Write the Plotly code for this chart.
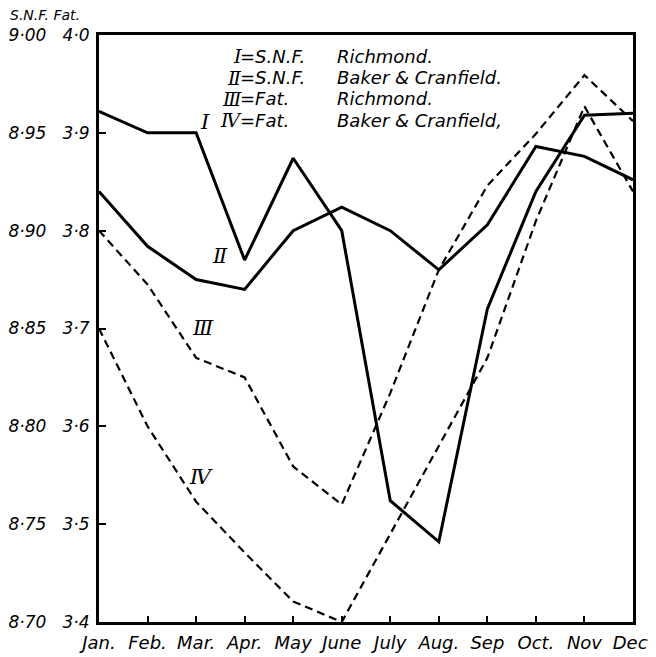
import plotly.graph_objects as go

months = ["Jan.", "Feb.", "Mar.", "Apr.", "May", "June", "July", "Aug.", "Sep", "Oct.", "Nov", "Dec."]

# S.N.F. per cent (left scale)
snf_richmond = [8.961, 8.950, 8.950, 8.885, 8.937, 8.900, 8.762, 8.741, 8.860, 8.920, 8.959, 8.960]
snf_baker = [8.920, 8.892, 8.875, 8.870, 8.900, 8.912, 8.900, 8.880, 8.903, 8.943, 8.938, 8.926]

# Fat per cent (right-hand column of the scale)
fat_richmond = [3.800, 3.745, 3.670, 3.650, 3.559, 3.520, 3.634, 3.760, 3.846, 3.899, 3.959, 3.912]
fat_baker = [3.700, 3.600, 3.523, 3.471, 3.421, 3.400, 3.490, 3.580, 3.670, 3.810, 3.927, 3.840]

snf_ticks = [8.70, 8.75, 8.80, 8.85, 8.90, 8.95, 9.00]
fat_ticks = [3.4, 3.5, 3.6, 3.7, 3.8, 3.9, 4.0]

legend_rows = [
    ("Ⅰ", "S.N.F.", "Richmond."),
    ("Ⅱ", "S.N.F.", "Baker & Cranfield."),
    ("Ⅲ", "Fat.", "Richmond."),
    ("Ⅳ", "Fat.", "Baker & Cranfield,"),
]

FONT = "DejaVu Sans"
PAGE_W, PAGE_H = 656, 657
OFF = 8  # default body margin of the html page
W, H = PAGE_W - OFF, PAGE_H - OFF
# plot frame in page pixels
L, R, T, B = 99, 633, 35, 622


def px(x, y):
    return (x - L) / (R - L), (B - y) / (B - T)


fig = go.Figure()
fig.add_trace(go.Scatter(x=months, y=snf_richmond, mode="lines",
                         line=dict(color="black", width=3), yaxis="y"))
fig.add_trace(go.Scatter(x=months, y=snf_baker, mode="lines",
                         line=dict(color="black", width=3), yaxis="y"))
fig.add_trace(go.Scatter(x=months, y=fat_richmond, mode="lines",
                         line=dict(color="black", width=2.2, dash="8px,5px"), yaxis="y2"))
fig.add_trace(go.Scatter(x=months, y=fat_baker, mode="lines",
                         line=dict(color="black", width=2.2, dash="8px,5px"), yaxis="y2"))

gap = "\u00a0" * 3
tick_text = [f"{s:.2f}".replace(".", "·") + gap + f"{f:.1f}".replace(".", "·")
             for s, f in zip(snf_ticks, fat_ticks)]

axis_font = dict(family=FONT, size=17, color="black", style="italic")
text_font = dict(family=FONT, size=18, color="black", style="italic")
num_font = dict(family="DejaVu Serif", size=19, color="black", style="italic")

fig.update_layout(
    width=W, height=H,
    margin=dict(l=L - OFF, r=PAGE_W - R, t=T - OFF, b=PAGE_H - B, autoexpand=False),
    paper_bgcolor="white", plot_bgcolor="white",
    showlegend=False,
    xaxis=dict(range=[0, 11], showgrid=False, zeroline=False, automargin=False,
               showline=True, linecolor="black", linewidth=3, mirror=True,
               ticks="inside", ticklen=6, tickwidth=2, tickcolor="black",
               ticklabelstandoff=2,
               tickfont=dict(family=FONT, size=18, color="black", style="italic")),
    yaxis=dict(range=[8.70, 9.00], showgrid=False, zeroline=False, automargin=False,
               showline=True, linecolor="black", linewidth=3, mirror=True,
               ticks="inside", ticklen=7, tickwidth=2, tickcolor="black",
               ticklabelstandoff=3,
               tickvals=snf_ticks, ticktext=tick_text, tickfont=axis_font),
    yaxis2=dict(range=[3.4, 4.0], overlaying="y", visible=False),
)

# column heading of the scale
fig.add_annotation(xref="paper", yref="paper", x=px(OFF, 0)[0], y=px(0, 15)[1],
                   text="S.N.F.\u00a0Fat.", showarrow=False,
                   xanchor="left", yanchor="middle", font=dict(axis_font, size=14))

# key in the top of the frame
row_y = [56, 78, 99, 120]
for (num, kind, who), y in zip(legend_rows, row_y):
    fig.add_annotation(xref="paper", yref="paper", x=px(244, y)[0], y=px(0, y)[1],
                       text=num, showarrow=False, xanchor="right", yanchor="middle",
                       font=num_font)
    fig.add_annotation(xref="paper", yref="paper", x=px(238, y)[0], y=px(0, y)[1],
                       text="=" + kind, showarrow=False, xanchor="left", yanchor="middle",
                       font=text_font)
    fig.add_annotation(xref="paper", yref="paper", x=px(335, y)[0], y=px(0, y)[1],
                       text=who, showarrow=False, xanchor="left", yanchor="middle",
                       font=text_font)

# curve labels
curve_labels = [("Ⅰ", 205, 122), ("Ⅱ", 220, 256), ("Ⅲ", 203, 328), ("Ⅳ", 201, 477)]
for num, x, y in curve_labels:
    fig.add_annotation(xref="paper", yref="paper", x=px(x, y)[0], y=px(x, y)[1],
                       text=num, showarrow=False, xanchor="center", yanchor="middle",
                       font=dict(family="DejaVu Serif", size=21, color="black", style="italic"))

fig.write_html("out.html")
